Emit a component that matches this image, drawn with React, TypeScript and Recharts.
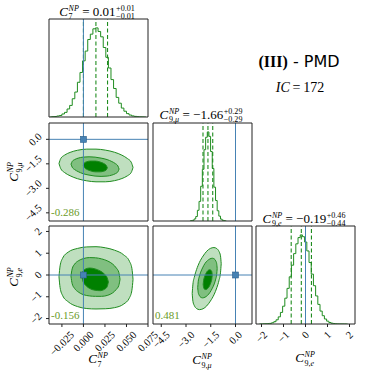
import React from 'react';
import {
  ComposedChart,
  Line,
  Area,
  Scatter,
  XAxis,
  YAxis,
  ReferenceLine,
} from 'recharts';

// axis ranges of the three parameters
const c7Domain = [-0.04, 0.075];
const c9muDomain = [-5, 1];
const c9eDomain = [-2.25, 2.25];
const histDomain = [0, 1.1];

const c7Ticks = [-0.025, 0, 0.025, 0.05, 0.075];
const c7TickLabels = ['\u22120.025', '0.000', '0.025', '0.050', '0.075'];
const c9muTicks = [-4.5, -3, -1.5, 0];
const c9muTickLabels = ['\u22124.5', '\u22123.0', '\u22121.5', '0.0'];
const c9eTicks = [-2, -1, 0, 1, 2];
const c9eTickLabels = ['\u22122', '\u22121', '0', '1', '2'];

// 1D marginal histograms (normalised to peak)
const c7BinCenters = [-0.0385, -0.0355, -0.0325, -0.0295, -0.0265, -0.0235, -0.0205, -0.0175, -0.0145, -0.0115, -0.0085, -0.0055, -0.0025, 0.0005, 0.0035, 0.0065, 0.0095, 0.0125, 0.0155, 0.0185, 0.0215, 0.0245, 0.0275, 0.0305, 0.0335, 0.0365, 0.0395, 0.0425, 0.0455, 0.0485, 0.0515, 0.0545, 0.0575, 0.0605, 0.0635, 0.0665, 0.0695, 0.0725];
const c7Counts = [0.001, 0.003, 0.005, 0.011, 0.017, 0.034, 0.052, 0.09, 0.13, 0.205, 0.28, 0.39, 0.5, 0.63, 0.74, 0.87, 0.93, 0.99, 1.0, 0.96, 0.9, 0.78, 0.67, 0.55, 0.42, 0.32, 0.22, 0.155, 0.1, 0.065, 0.038, 0.022, 0.012, 0.007, 0.003, 0.0015, 0.0007, 0.0003];

const c9muBinCenters = [-2.76, -2.66, -2.56, -2.46, -2.36, -2.26, -2.16, -2.06, -1.96, -1.86, -1.76, -1.66, -1.56, -1.46, -1.36, -1.26, -1.16, -1.06, -0.96, -0.86, -0.76, -0.66, -0.56];
const c9muCounts = [0.001, 0.003, 0.008, 0.023, 0.05, 0.12, 0.22, 0.39, 0.58, 0.8, 0.94, 1.0, 0.95, 0.78, 0.59, 0.38, 0.23, 0.115, 0.055, 0.021, 0.008, 0.003, 0.001];

const c9eBinCenters = [-2.09, -1.99, -1.89, -1.79, -1.69, -1.59, -1.49, -1.39, -1.29, -1.19, -1.09, -0.99, -0.89, -0.79, -0.69, -0.59, -0.49, -0.39, -0.29, -0.19, -0.09, 0.01, 0.11, 0.21, 0.31, 0.41, 0.51, 0.61, 0.71, 0.81, 0.91, 1.01, 1.11, 1.21, 1.31, 1.41, 1.51, 1.61, 1.71, 1.81, 1.91];
const c9eCounts = [0.0005, 0.0008, 0.0015, 0.0025, 0.004, 0.007, 0.014, 0.026, 0.047, 0.08, 0.13, 0.2, 0.29, 0.4, 0.53, 0.66, 0.79, 0.9, 0.97, 1.0, 0.98, 0.92, 0.82, 0.69, 0.56, 0.43, 0.315, 0.22, 0.145, 0.093, 0.056, 0.032, 0.017, 0.009, 0.0045, 0.0022, 0.001, 0.0005, 0.0002, 0.0001, 0];

// 16/50/84 % quantiles
const c7Quantiles = [0.0, 0.0145, 0.028];
const c9muQuantiles = [-1.97, -1.67, -1.38];
const c9eQuantiles = [-0.65, -0.19, 0.27];

// SM point
const truthC7 = 0;
const truthC9mu = 0;
const truthC9e = 0;

// 2D credible regions, [x, low, high]
const c9muC7Outer = [[-0.0284, -1.48, -1.48], [-0.0263, -1.8, -1.17], [-0.022, -2.03, -0.97], [-0.0155, -2.23, -0.8], [-0.0069, -2.41, -0.67], [0.0039, -2.54, -0.6], [0.0146, -2.6, -0.6], [0.0254, -2.6, -0.66], [0.0361, -2.53, -0.79], [0.0447, -2.4, -0.97], [0.0512, -2.23, -1.18], [0.0555, -2.03, -1.4], [0.0576, -1.72, -1.72]];
const c9muC7Middle = [[-0.0144, -1.52, -1.52], [-0.013, -1.71, -1.35], [-0.0102, -1.85, -1.24], [-0.006, -1.98, -1.15], [-0.0005, -2.1, -1.09], [0.0065, -2.19, -1.07], [0.0135, -2.25, -1.09], [0.0205, -2.27, -1.15], [0.0275, -2.25, -1.24], [0.033, -2.19, -1.36], [0.0372, -2.1, -1.49], [0.04, -1.99, -1.63], [0.0414, -1.82, -1.82]];
const c9muC7Inner = [[-0.0002, -1.58, -1.58], [0.0012, -1.73, -1.44], [0.004, -1.84, -1.37], [0.0082, -1.93, -1.33], [0.0138, -1.99, -1.33], [0.0194, -1.99, -1.39], [0.0236, -1.95, -1.48], [0.0264, -1.88, -1.59], [0.0278, -1.74, -1.74]];

const c9eC7Outer = [[-0.0284, -0.08, -0.08], [-0.0271, -0.58, 0.42], [-0.0241, -0.95, 0.78], [-0.0177, -1.23, 1.05], [-0.0069, -1.45, 1.22], [0.0039, -1.54, 1.29], [0.0146, -1.56, 1.3], [0.0254, -1.55, 1.25], [0.0361, -1.5, 1.14], [0.0469, -1.33, 0.92], [0.0533, -1.06, 0.64], [0.0563, -0.7, 0.3], [0.0576, -0.2, -0.2]];
const c9eC7Middle = [[-0.0145, -0.05, -0.05], [-0.0131, -0.4, 0.28], [-0.0102, -0.62, 0.5], [-0.006, -0.78, 0.65], [-0.0003, -0.9, 0.75], [0.0069, -0.96, 0.8], [0.014, -0.98, 0.79], [0.0211, -0.98, 0.74], [0.0283, -0.93, 0.64], [0.034, -0.82, 0.5], [0.0382, -0.66, 0.32], [0.0411, -0.48, 0.12], [0.0425, -0.2, -0.2]];
const c9eC7Inner = [[-0.002, -0.05, -0.05], [-0.0005, -0.3, 0.17], [0.0027, -0.48, 0.28], [0.0073, -0.62, 0.32], [0.0135, -0.7, 0.28], [0.0197, -0.72, 0.18], [0.0244, -0.66, 0.04], [0.0275, -0.54, -0.12], [0.029, -0.32, -0.32]];

const c9eC9muOuter = [[-2.624, -0.85, -0.85], [-2.58, -1.21, -0.42], [-2.492, -1.41, -0.09], [-2.36, -1.54, 0.25], [-2.185, -1.59, 0.58], [-1.965, -1.55, 0.87], [-1.745, -1.42, 1.09], [-1.525, -1.2, 1.22], [-1.305, -0.91, 1.26], [-1.13, -0.58, 1.21], [-0.998, -0.24, 1.08], [-0.91, 0.1, 0.88], [-0.866, 0.52, 0.52]];
const c9eC9muMiddle = [[-2.29, -0.58, -0.58], [-2.26, -0.8, -0.31], [-2.2, -0.93, -0.09], [-2.11, -1.02, 0.13], [-1.995, -1.05, 0.33], [-1.85, -1.02, 0.53], [-1.7, -0.94, 0.66], [-1.55, -0.8, 0.74], [-1.405, -0.61, 0.77], [-1.287, -0.41, 0.74], [-1.199, -0.19, 0.65], [-1.14, 0.03, 0.52], [-1.11, 0.3, 0.3]];
const c9eC9muInner = [[-1.96, -0.43, -0.43], [-1.93, -0.59, -0.24], [-1.878, -0.65, -0.08], [-1.795, -0.67, 0.07], [-1.685, -0.62, 0.19], [-1.575, -0.5, 0.24], [-1.493, -0.35, 0.22], [-1.438, -0.19, 0.16], [-1.41, 0.0, 0.0]];

const correlations = ['-0.286', '-0.156', '0.481'];

// layout
const COL_X = [49, 153, 256];
const ROW_Y = [19, 123, 226];
const PW = 99;
const PH = 98;

const LINE_GREEN = '#1f8c1f';
const FILL_1 = '#bfdfbf';
const FILL_2 = '#80bf80';
const FILL_3 = '#008000';
const TRUTH = '#4682b4';
const CORR = '#6a9a28';
const FRAME = '#222';
const SERIF = '"Liberation Serif", "DejaVu Serif", serif';
const TICK_FS = 10.5;

const histTable = (centers: number[], counts: number[]) =>
  centers.map((x, i) => ({ x, y: counts[i] }));
const rangeTable = (rows: number[][]) => rows.map(([x, lo, hi]) => ({ x, r: [lo, hi] }));

const textWidth = (s: string, fs: number) =>
  [...s].reduce((a, ch) => a + (ch === '.' ? 0.25 : ch === '\u2212' ? 0.56 : 0.5) * fs, 0);

const bottomTick = (ticks: number[], labels: string[]) => (p: any) => {
  const label = labels[ticks.indexOf(p.payload.value)] ?? '';
  const half = (textWidth(label, TICK_FS) + TICK_FS * 0.7) / (2 * Math.SQRT2);
  const cx = p.x;
  const cy = p.y + 1.5 + half;
  return (
    <text x={cx} y={cy} textAnchor="middle" dominantBaseline="central" transform={`rotate(-45 ${cx} ${cy})`}
      fontSize={TICK_FS} fontFamily={SERIF} fill="#000">{label}</text>
  );
};

const leftTick = (ticks: number[], labels: string[]) => (p: any) => {
  const label = labels[ticks.indexOf(p.payload.value)] ?? '';
  const half = (textWidth(label, TICK_FS) + TICK_FS * 0.7) / (2 * Math.SQRT2);
  const cx = p.x - 1.5 - half;
  const cy = p.y;
  return (
    <text x={cx} y={cy} textAnchor="middle" dominantBaseline="central" transform={`rotate(-45 ${cx} ${cy})`}
      fontSize={TICK_FS} fontFamily={SERIF} fill="#000">{label}</text>
  );
};

const SquareMarker = (p: any) => (
  <rect x={p.cx - 3} y={p.cy - 3} width={6} height={6} fill={TRUTH} stroke="#2d5f8a" strokeWidth={0.6} />
);

type PanelProps = {
  row: number;
  col: number;
  xDomain: number[];
  yDomain: number[];
  xTicks: number[];
  yTicks: number[];
  xLabels?: string[];
  yLabels?: string[];
  children: React.ReactNode;
};

function Panel({ row, col, xDomain, yDomain, xTicks, yTicks, xLabels, yLabels, children }: PanelProps) {
  const L = yLabels ? 44 : 6;
  const B = xLabels ? 44 : 6;
  const T = 4;
  const R = xLabels ? 24 : 4;
  return (
    <div style={{ position: 'absolute', left: COL_X[col] - L, top: ROW_Y[row] - T }}>
      <ComposedChart width={L + PW + R} height={T + PH + B} margin={{ top: T, right: R, bottom: 0, left: 0 }}>
        <XAxis type="number" dataKey="x" domain={xDomain} allowDataOverflow ticks={xTicks} interval={0}
          height={B} tickSize={3} stroke={FRAME} tick={xLabels ? bottomTick(xTicks, xLabels) : false} />
        <XAxis xAxisId="top" orientation="top" mirror type="number" domain={xDomain} allowDataOverflow
          ticks={xTicks} interval={0} tickSize={3} stroke={FRAME} tick={false} />
        <YAxis type="number" dataKey="y" domain={yDomain} allowDataOverflow ticks={yTicks} interval={0}
          width={L} tickSize={3} stroke={FRAME} tick={yLabels ? leftTick(yTicks, yLabels) : false}
          tickLine={yTicks.length > 0} />
        <YAxis yAxisId="right" orientation="right" mirror type="number" domain={yDomain} allowDataOverflow
          ticks={yTicks} interval={0} tickSize={3} stroke={FRAME} tick={false} tickLine={yTicks.length > 0} />
        {children}
      </ComposedChart>
    </div>
  );
}

const histChildren = (centers: number[], counts: number[], quantiles: number[], truth: number) => [
  <Line key="h" data={histTable(centers, counts)} dataKey="y" type="step" stroke={LINE_GREEN} strokeWidth={1}
    dot={false} isAnimationActive={false} />,
  ...quantiles.map((q, i) => (
    <ReferenceLine key={`q${i}`} x={q} stroke={LINE_GREEN} strokeWidth={1.1} strokeDasharray="4 2.5" />
  )),
  <ReferenceLine key="t" x={truth} stroke={TRUTH} strokeWidth={1} />,
];

const contourChildren = (outer: number[][], middle: number[][], inner: number[][], tx: number, ty: number) => [
  <Area key="o" data={rangeTable(outer)} dataKey="r" type="monotone" fill={FILL_1} fillOpacity={1}
    stroke={LINE_GREEN} strokeWidth={1} isAnimationActive={false} />,
  <Area key="m" data={rangeTable(middle)} dataKey="r" type="monotone" fill={FILL_2} fillOpacity={1}
    stroke={LINE_GREEN} strokeWidth={1} isAnimationActive={false} />,
  <Area key="i" data={rangeTable(inner)} dataKey="r" type="monotone" fill={FILL_3} fillOpacity={1}
    stroke={LINE_GREEN} strokeWidth={1} isAnimationActive={false} />,
  <ReferenceLine key="tx" x={tx} stroke={TRUTH} strokeWidth={1} />,
  <ReferenceLine key="ty" y={ty} stroke={TRUTH} strokeWidth={1} />,
  <Scatter key="p" data={[{ x: tx, y: ty }]} dataKey="y" shape={SquareMarker} isAnimationActive={false} />,
];

function Scripts({ sup, sub }: { sup: React.ReactNode; sub: React.ReactNode }) {
  return (
    <span style={{ display: 'inline-grid', fontSize: '0.62em', lineHeight: 1, marginLeft: '0.08em' }}>
      <span style={{ gridArea: '1 / 1', position: 'relative', top: '-0.62em' }}>{sup}</span>
      <span style={{ gridArea: '1 / 1', position: 'relative', top: '0.45em' }}>{sub}</span>
    </span>
  );
}

const NP = <i>NP</i>;
const Sym = ({ sub }: { sub: React.ReactNode }) => (
  <span><i>C</i><Scripts sup={NP} sub={sub} /></span>
);
const subMu = <span>9,<i>μ</i></span>;
const subE = <span>9,<i>e</i></span>;

function Label({ x, y, fs, rotate, children }: { x: number; y: number; fs: number; rotate?: boolean; children: React.ReactNode }) {
  return (
    <div style={{
      position: 'absolute', left: x, top: rotate ? y : y - 0.84 * fs, fontSize: fs, lineHeight: 1,
      fontFamily: SERIF, whiteSpace: 'nowrap', color: '#000',
      transform: rotate ? 'translate(-50%, -50%) rotate(-90deg)' : 'translateX(-50%)',
    }}>{children}</div>
  );
}

const Title = ({ sub, value, plus, minus }: { sub: React.ReactNode; value: string; plus: string; minus: string }) => (
  <span><Sym sub={sub} /> = {value}<Scripts sup={plus} sub={minus} /></span>
);

export default function App() {
  return (
    <div style={{ position: 'absolute', left: 0, top: 0, width: 374, height: 374, background: '#fff', overflow: 'hidden' }}>
      {/* diagonal: marginals */}
      <Panel row={0} col={0} xDomain={c7Domain} yDomain={histDomain} xTicks={c7Ticks} yTicks={[]}>
        {histChildren(c7BinCenters, c7Counts, c7Quantiles, truthC7)}
      </Panel>
      <Panel row={1} col={1} xDomain={c9muDomain} yDomain={histDomain} xTicks={c9muTicks} yTicks={[]}>
        {histChildren(c9muBinCenters, c9muCounts, c9muQuantiles, truthC9mu)}
      </Panel>
      <Panel row={2} col={2} xDomain={c9eDomain} yDomain={histDomain} xTicks={c9eTicks} yTicks={[]} xLabels={c9eTickLabels}>
        {histChildren(c9eBinCenters, c9eCounts, c9eQuantiles, truthC9e)}
      </Panel>

      {/* off-diagonal: 2D regions */}
      <Panel row={1} col={0} xDomain={c7Domain} yDomain={c9muDomain} xTicks={c7Ticks} yTicks={c9muTicks} yLabels={c9muTickLabels}>
        {contourChildren(c9muC7Outer, c9muC7Middle, c9muC7Inner, truthC7, truthC9mu)}
      </Panel>
      <Panel row={2} col={0} xDomain={c7Domain} yDomain={c9eDomain} xTicks={c7Ticks} yTicks={c9eTicks}
        xLabels={c7TickLabels} yLabels={c9eTickLabels}>
        {contourChildren(c9eC7Outer, c9eC7Middle, c9eC7Inner, truthC7, truthC9e)}
      </Panel>
      <Panel row={2} col={1} xDomain={c9muDomain} yDomain={c9eDomain} xTicks={c9muTicks} yTicks={c9eTicks} xLabels={c9muTickLabels}>
        {contourChildren(c9eC9muOuter, c9eC9muMiddle, c9eC9muInner, truthC9mu, truthC9e)}
      </Panel>

      {/* correlation coefficients */}
      {[[1, 0], [2, 0], [2, 1]].map(([r, c], i) => (
        <div key={i} style={{ position: 'absolute', left: COL_X[c] + 2, top: ROW_Y[r] + PH - 5 - 0.84 * 11,
          fontSize: 11, lineHeight: 1, fontFamily: SERIF, color: CORR }}>{correlations[i]}</div>
      ))}

      {/* titles */}
      <Label x={97} y={15.5} fs={13}><Title sub="7" value="0.01" plus="+0.01" minus={'\u22120.01'} /></Label>
      <Label x={201} y={118.5} fs={13}><Title sub={subMu} value={'\u22121.66'} plus="+0.29" minus={'\u22120.29'} /></Label>
      <Label x={304} y={222.5} fs={13}><Title sub={subE} value={'\u22120.19'} plus="+0.46" minus={'\u22120.44'} /></Label>

      {/* axis labels */}
      <Label x={98} y={363} fs={13}><Sym sub="7" /></Label>
      <Label x={202} y={364} fs={13}><Sym sub={subMu} /></Label>
      <Label x={305} y={362} fs={13}><Sym sub={subE} /></Label>
      <Label x={14} y={172} fs={13} rotate><Sym sub={subMu} /></Label>
      <Label x={14} y={277} fs={13} rotate><Sym sub={subE} /></Label>

      {/* scenario text */}
      <Label x={299} y={67.5} fs={16}>
        <b>(III)</b><span style={{ fontFamily: '"DejaVu Sans", "Liberation Sans", sans-serif' }}> - PMD</span>
      </Label>
      <Label x={300} y={92.5} fs={14}><i>IC</i>{'\u2009=\u2009'}172</Label>
    </div>
  );
}
